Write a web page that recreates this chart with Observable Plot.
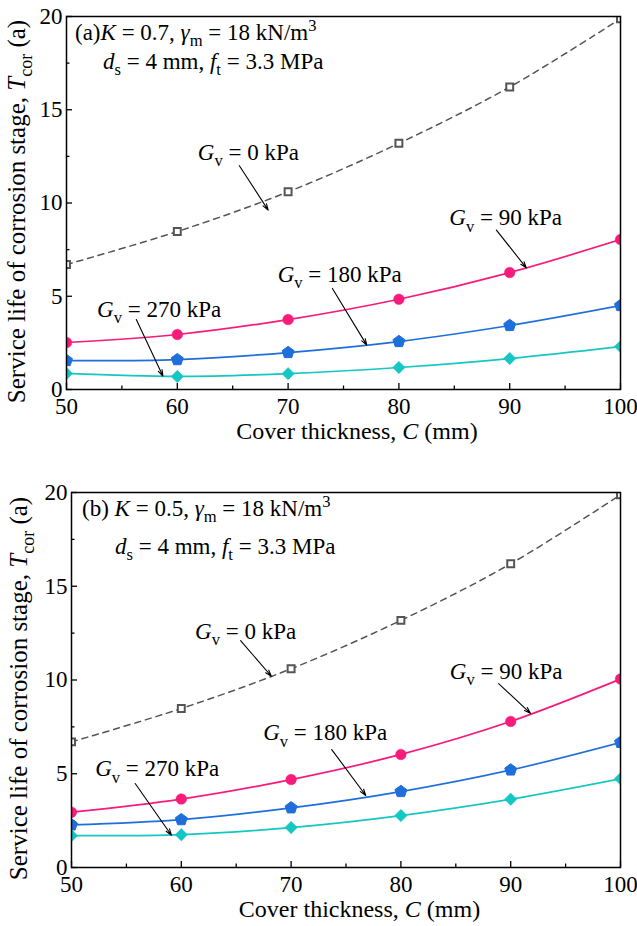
<!DOCTYPE html>
<html><head><meta charset="utf-8">
<script src="https://cdn.jsdelivr.net/npm/d3@7"></script>
<script src="https://cdn.jsdelivr.net/npm/@observablehq/plot@0.6"></script>
<style>
html,body{margin:0;padding:0;background:#fff;}
#wrap{position:relative;width:637px;height:926px;overflow:hidden;background:#fff;}
#wrap > div{position:absolute;left:0;}
svg text{font-family:"Liberation Serif","Times New Roman",serif;}
</style></head>
<body><div id="wrap"><div id="pa" style="top:0"></div><div id="pb" style="top:470px"></div></div>
<script>
// ---- data ----
const cover = [50, 60, 70, 80, 90, 100];
const gvLevels = ["0", "90", "180", "270"];
// panel (a): K = 0.7
const aG0   = [6.7, 8.47, 10.6, 13.2, 16.22, 19.88];
const aG90  = [2.52, 2.95, 3.75, 4.84, 6.27, 8.04];
const aG180 = [1.55, 1.6, 1.98, 2.57, 3.43, 4.5];
const aG270 = [0.86, 0.7, 0.85, 1.18, 1.66, 2.3];
// panel (b): K = 0.5
const bG0   = [6.7, 8.48, 10.6, 13.18, 16.2, 19.88];
const bG90  = [2.95, 3.65, 4.69, 6.03, 7.79, 10.05];
const bG180 = [2.27, 2.55, 3.18, 4.05, 5.2, 6.67];
const bG270 = [1.7, 1.75, 2.13, 2.77, 3.64, 4.73];
// ticks
const xTicks = [50, 60, 70, 80, 90, 100];
const xMinor = [55, 65, 75, 85, 95];
const yTicks = [0, 5, 10, 15, 20];
const yMinor = [2.5, 7.5, 12.5, 17.5];
// annotation anchors (data coordinates): label baseline start, arrow start, arrow end
const aNotes = [
  {g: "0",   tx: 61.9, ty: 12.28, x1: 65.6, y1: 12.0, x2: 68.2, y2: 9.62},
  {g: "90",  tx: 84.6, ty: 8.79,  x1: 88.8, y1: 8.55, x2: 91.5, y2: 6.52},
  {g: "180", tx: 69.1, ty: 5.74,  x1: 74.0, y1: 5.42, x2: 77.1, y2: 2.38},
  {g: "270", tx: 52.8, ty: 3.86,  x1: 56.3, y1: 3.75, x2: 58.7, y2: 0.72}
];
const bNotes = [
  {g: "0",   tx: 61.3, ty: 12.16, x1: 65.4, y1: 12.1, x2: 68.2, y2: 10.2},
  {g: "90",  tx: 84.5, ty: 10.03, x1: 88.9, y1: 9.81, x2: 91.8, y2: 8.22},
  {g: "180", tx: 67.5, ty: 6.77,  x1: 73.7, y1: 6.29, x2: 76.8, y2: 3.84},
  {g: "270", tx: 52.2, ty: 4.85,  x1: 55.8, y1: 4.48, x2: 59.1, y2: 1.72}
];

// ---- styles ----
const FONT = '"Liberation Serif","Times New Roman",serif';
const pink = "#f81b7b", blue = "#1e6fdc", cyan = "#16c6c4", gray = "#555555";

const pentagon = {
  draw(ctx, size) {
    const r = Math.sqrt(size / Math.PI) * 1.18;
    for (let i = 0; i < 5; i++) {
      const a = -Math.PI / 2 + i * 2 * Math.PI / 5;
      const px = r * Math.cos(a), py = r * Math.sin(a);
      if (i === 0) ctx.moveTo(px, py); else ctx.lineTo(px, py);
    }
    ctx.closePath();
  }
};

function rows(vals) { return cover.map((c, i) => ({x: c, y: vals[i]})); }

function rich(g, x, y, segs, size, opts = {}) {
  const t = g.append("text").attr("x", x).attr("y", y)
    .attr("font-size", size).attr("fill", "black")
    .attr("font-family", FONT)
    .attr("text-anchor", opts.anchor || "start");
  if (opts.transform) t.attr("transform", opts.transform);
  let shift = 0;
  for (const s of segs) {
    const target = s.sub ? size * 0.28 : s.sup ? -size * 0.38 : 0;
    const ts = t.append("tspan").text(s.t).attr("dy", target - shift);
    shift = target;
    if (s.sub || s.sup) ts.attr("font-size", size * 0.72);
    if (s.i) ts.attr("font-style", "italic");
  }
  return t;
}

function panel(el, cfg) {
  const {height, marginLeft, marginTop, marginBottom, series, notes, tag, kval, line2x, line2dy} = cfg;
  const marginRight = 17;
  const yPx = (height - marginTop - marginBottom) / 20;
  const xPx = (637 - marginLeft - marginRight) / 50;
  const tkY = 6 / yPx, tkYm = 3.5 / yPx, tkX = 6 / xPx, tkXm = 3.5 / xPx;

  const [g0, g90, g180, g270] = series;
  const plot = Plot.plot({
    width: 637, height, marginLeft, marginRight, marginTop, marginBottom,
    x: {domain: [50, 100]},
    y: {domain: [0, 20]},
    style: {fontFamily: FONT, fontSize: "23px", color: "black", background: "white", overflow: "visible"},
    marks: [
      Plot.axisX(xTicks, {tickSize: 0, tickPadding: 8, label: null, fontSize: 23}),
      Plot.axisY(yTicks, {tickSize: 0, tickPadding: 4, label: null, fontSize: 23}),
      Plot.ruleX(xTicks, {x: d => d, y1: 0, y2: tkY, stroke: "black", strokeWidth: 1.3}),
      Plot.ruleX(xMinor, {x: d => d, y1: 0, y2: tkYm, stroke: "black", strokeWidth: 1.3}),
      Plot.ruleY(yTicks, {y: d => d, x1: 50, x2: 50 + tkX, stroke: "black", strokeWidth: 1.3}),
      Plot.ruleY(yMinor, {y: d => d, x1: 50, x2: 50 + tkXm, stroke: "black", strokeWidth: 1.3}),
      Plot.line(rows(g0), {x: "x", y: "y", curve: "catmull-rom", stroke: gray, strokeWidth: 1.5, strokeDasharray: "6,5", clip: true}),
      Plot.line(rows(g90), {x: "x", y: "y", curve: "catmull-rom", stroke: pink, strokeWidth: 1.7, clip: true}),
      Plot.line(rows(g180), {x: "x", y: "y", curve: "catmull-rom", stroke: blue, strokeWidth: 1.7, clip: true}),
      Plot.line(rows(g270), {x: "x", y: "y", curve: "catmull-rom", stroke: cyan, strokeWidth: 1.7, clip: true}),
      Plot.dot(rows(g0), {x: "x", y: "y", symbol: "square", r: 3.9, fill: "white", stroke: gray, strokeWidth: 2, clip: true}),
      Plot.dot(rows(g90), {x: "x", y: "y", symbol: "circle", r: 5.3, fill: pink, stroke: pink, strokeWidth: 0.5, clip: true}),
      Plot.dot(rows(g180), {x: "x", y: "y", symbol: pentagon, r: 5.3, fill: blue, stroke: blue, strokeWidth: 1, strokeLinejoin: "round", clip: true}),
      Plot.dot(rows(g270), {x: "x", y: "y", symbol: "diamond2", r: 5.6, fill: cyan, stroke: cyan, strokeWidth: 0.5, clip: true}),
      Plot.arrow(notes, {x1: "x1", y1: "y1", x2: "x2", y2: "y2", stroke: "black", strokeWidth: 1.1, headLength: 9, headAngle: 36}),
      Plot.frame({stroke: "black", strokeWidth: 1.5})
    ]
  });
  el.appendChild(plot);
  const X = plot.scale("x"), Y = plot.scale("y");
  const svg = d3.select(plot);
  const g = svg.append("g");
  // annotations
  for (const n of notes) {
    rich(g, X.apply(n.tx), Y.apply(n.ty), [
      {t: "G", i: true}, {t: "v", sub: true}, {t: " = " + n.g + " kPa"}
    ], 23);
  }
  // corner text
  const left = X.apply(50), top = Y.apply(20), bottom = Y.apply(0), right = X.apply(100);
  rich(g, left + cfg.line1x, top + 24, [
    {t: tag}, {t: "K", i: true}, {t: " = " + kval + ", "}, {t: "γ", i: true}, {t: "m", sub: true},
    {t: " = 18 kN/m"}, {t: "3", sup: true}
  ], 23);
  rich(g, left + line2x, top + 24 + line2dy, [
    {t: "d", i: true}, {t: "s", sub: true}, {t: " = 4 mm, "}, {t: "f", i: true}, {t: "t", sub: true}, {t: " = 3.3 MPa"}
  ], 23);
  // axis titles
  rich(g, (left + right) / 2 + 14, bottom + cfg.xTitleDy, [
    {t: "Cover thickness, "}, {t: "C", i: true}, {t: " (mm)"}
  ], 24, {anchor: "middle"});
  const cy = (top + bottom) / 2 + 9;
  rich(g, 0, 0, [
    {t: "Service life of corrosion stage, "}, {t: "T", i: true}, {t: "cor", sub: true}, {t: " (a)"}
  ], 25, {anchor: "middle", transform: `translate(${cfg.yTitleX},${cy}) rotate(-90)`});
}

panel(document.getElementById("pa"), {
  height: 470, marginLeft: 66, marginTop: 16, marginBottom: 81,
  series: [aG0, aG90, aG180, aG270], notes: aNotes,
  tag: "(a)", kval: "0.7", line1x: 9, line2x: 37, line2dy: 29, xTitleDy: 50, yTitleX: 25
});
panel(document.getElementById("pb"), {
  height: 456, marginLeft: 71, marginTop: 22, marginBottom: 59,
  series: [bG0, bG90, bG180, bG270], notes: bNotes,
  tag: "(b) ", kval: "0.5", line1x: 11, line2x: 44, line2dy: 38, xTitleDy: 50, yTitleX: 27
});
</script></body></html>
